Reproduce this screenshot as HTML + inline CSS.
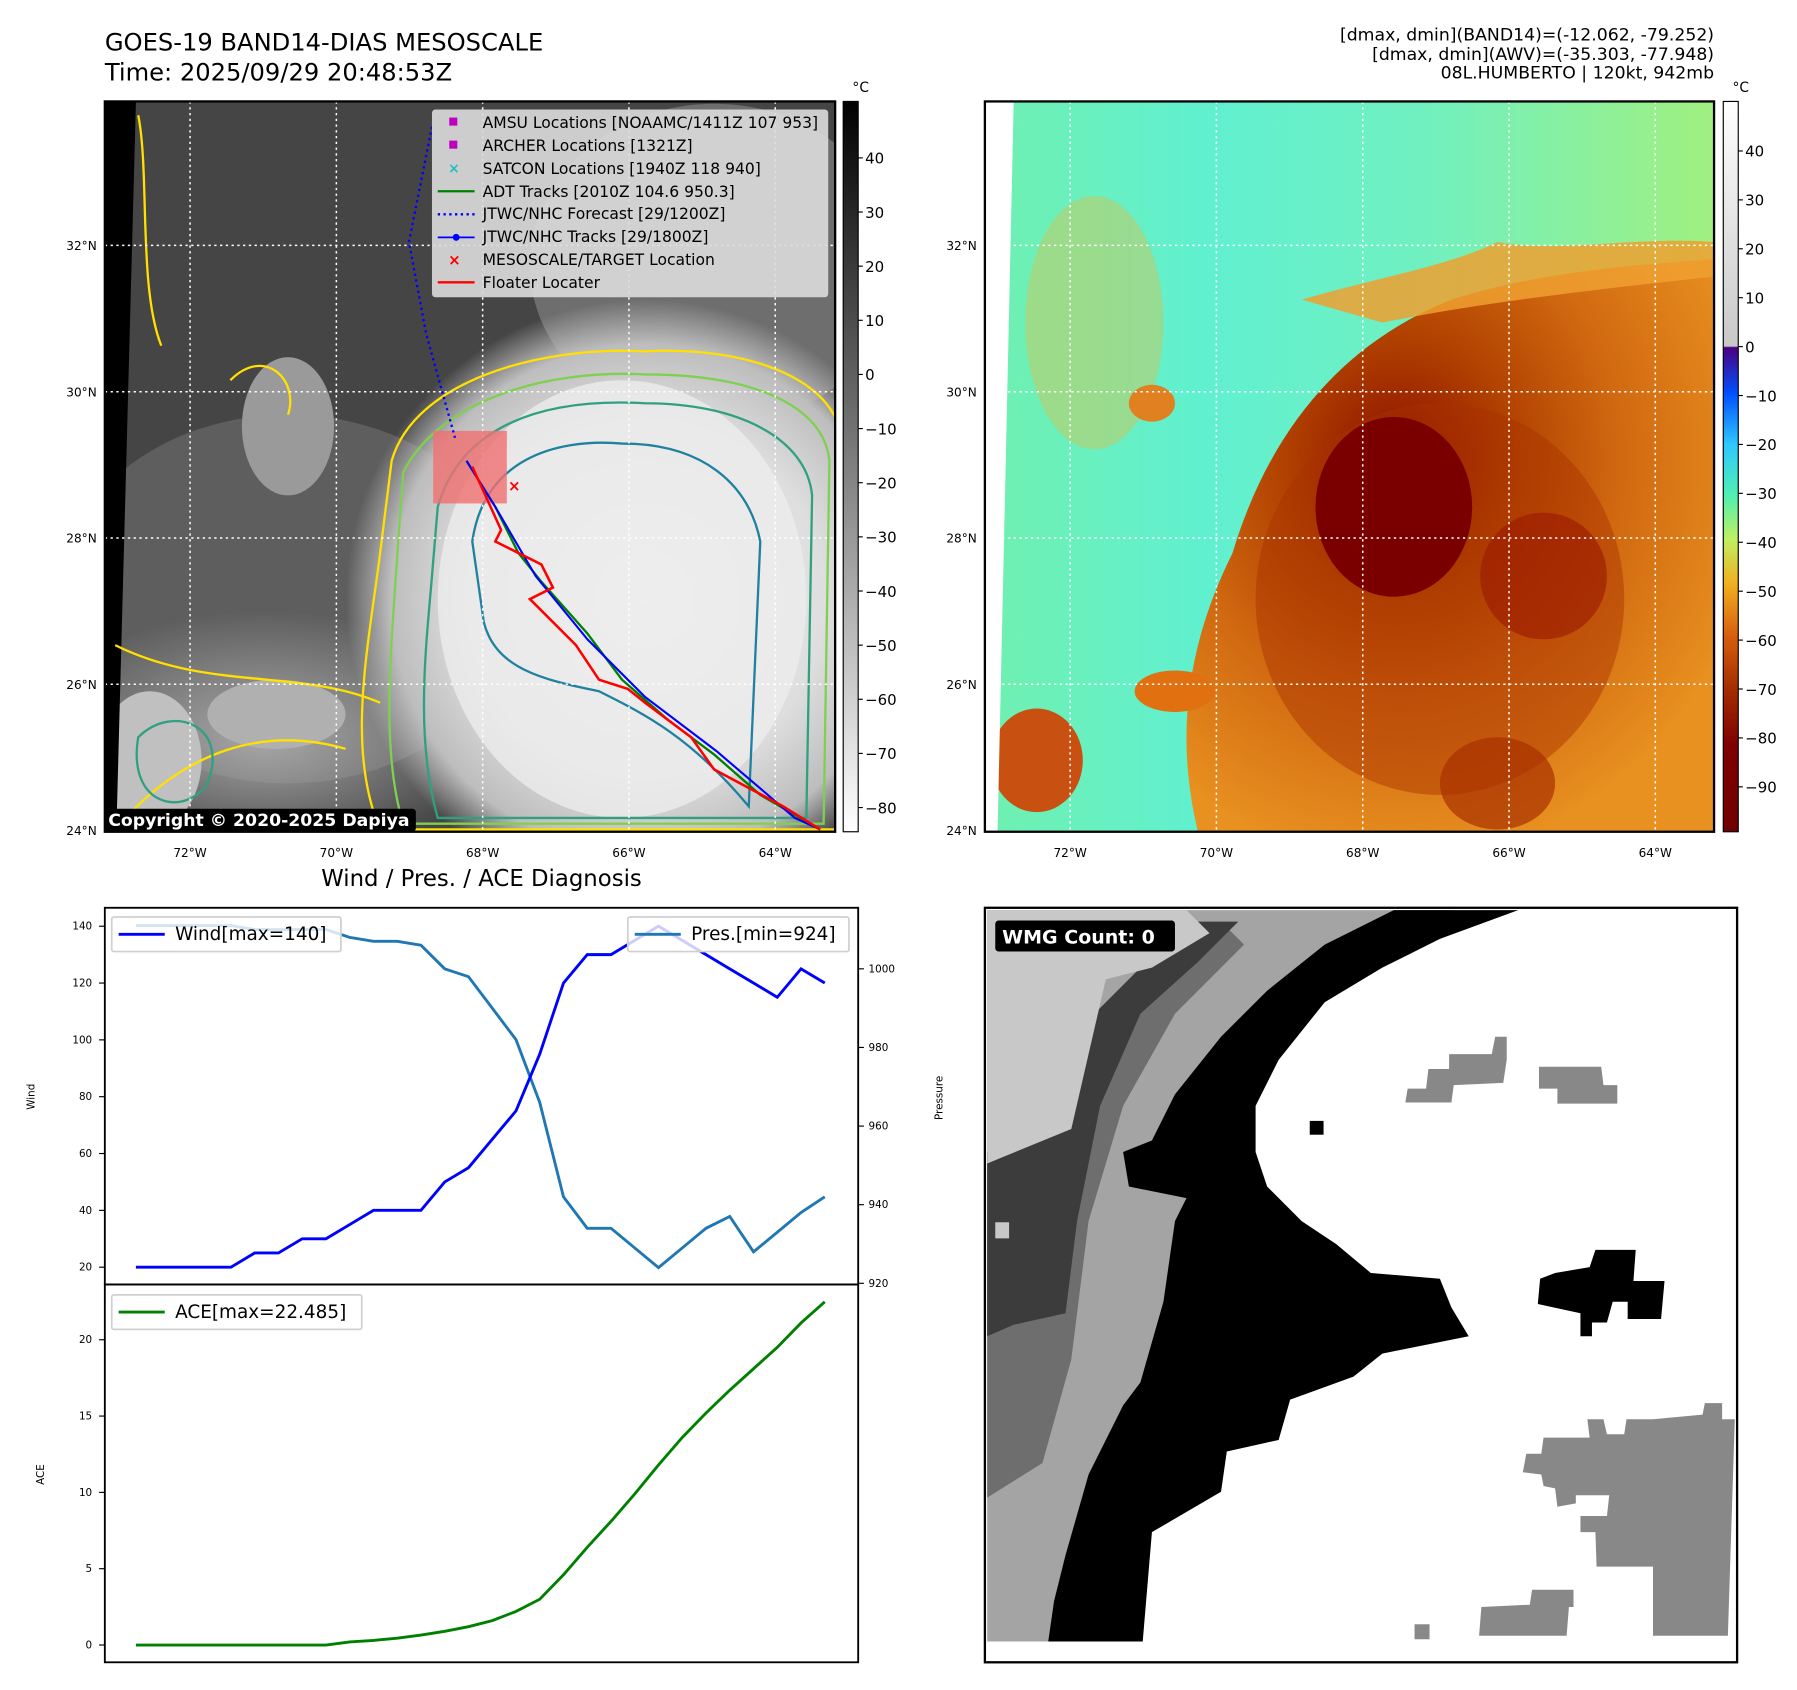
<!DOCTYPE html>
<html><head><meta charset="utf-8"><style>
html,body{margin:0;padding:0;background:#fff;}
svg{display:block;font-family:"DejaVu Sans","Liberation Sans",sans-serif;}
</style></head><body>
<svg id="root" width="1797" height="1690" viewBox="0 0 1560 1467" xmlns="http://www.w3.org/2000/svg">
<defs>
 <linearGradient id="cb1" x1="0" y1="0" x2="0" y2="1">
  <stop offset="0" stop-color="#000"/><stop offset="1" stop-color="#fff"/>
 </linearGradient>
 <linearGradient id="cb2" x1="0" y1="0" x2="0" y2="1">
  <stop offset="0" stop-color="#ffffff"/>
  <stop offset="0.335" stop-color="#c8c8c8"/>
  <stop offset="0.337" stop-color="#4b0082"/>
  <stop offset="0.40" stop-color="#0050ff"/>
  <stop offset="0.47" stop-color="#30c8ff"/>
  <stop offset="0.54" stop-color="#50f0b0"/>
  <stop offset="0.60" stop-color="#c0f060"/>
  <stop offset="0.66" stop-color="#f0b020"/>
  <stop offset="0.73" stop-color="#d86010"/>
  <stop offset="0.80" stop-color="#a83000"/>
  <stop offset="0.88" stop-color="#800000"/>
  <stop offset="1" stop-color="#700000"/>
 </linearGradient>
 <radialGradient id="cloud1" cx="0.5" cy="0.5" r="0.5">
  <stop offset="0" stop-color="#f2f2f2"/><stop offset="0.6" stop-color="#dedede"/><stop offset="0.85" stop-color="#bdbdbd"/><stop offset="1" stop-color="#bdbdbd" stop-opacity="0"/>
 </radialGradient>
 <radialGradient id="haze1" cx="0.5" cy="0.5" r="0.5">
  <stop offset="0" stop-color="#a8a8a8"/><stop offset="1" stop-color="#a8a8a8" stop-opacity="0"/>
 </radialGradient>
 <radialGradient id="storm2" cx="0.4" cy="0.35" r="0.7">
  <stop offset="0" stop-color="#8c1000"/><stop offset="0.3" stop-color="#b04000"/><stop offset="0.6" stop-color="#d06810"/><stop offset="1" stop-color="#e89020"/>
 </radialGradient>
 <linearGradient id="bg2" x1="0" y1="0" x2="1" y2="0">
  <stop offset="0" stop-color="#70f0b0"/><stop offset="0.3" stop-color="#60f0d0"/><stop offset="0.6" stop-color="#70f0c0"/><stop offset="1" stop-color="#a0f080"/>
 </linearGradient>
 <clipPath id="clipm1"><rect x="91" y="88" width="634" height="634"/></clipPath>
 <clipPath id="clipm2"><rect x="855" y="88" width="633" height="634"/></clipPath>
 <clipPath id="clipw"><rect x="91" y="788" width="654" height="327"/></clipPath>
 <clipPath id="clipg"><rect x="855" y="788" width="653" height="655"/></clipPath>
</defs>

<text x="91" y="44" font-size="21">GOES-19 BAND14-DIAS MESOSCALE</text>
<text x="91" y="70" font-size="21">Time: 2025/09/29 20:48:53Z</text>
<g font-size="15" text-anchor="end">
 <text x="1488" y="35">[dmax, dmin](BAND14)=(-12.062, -79.252)</text>
 <text x="1488" y="52">[dmax, dmin](AWV)=(-35.303, -77.948)</text>
 <text x="1488" y="68">08L.HUMBERTO | 120kt, 942mb</text>
</g>

<g clip-path="url(#clipm1)">
 <rect x="91" y="88" width="634" height="634" fill="#454545"/>
 <ellipse cx="250" cy="520" rx="200" ry="160" fill="#6a6a6a" opacity="0.7"/>
 <ellipse cx="230" cy="640" rx="200" ry="110" fill="url(#haze1)"/>
 <ellipse cx="620" cy="230" rx="160" ry="140" fill="#8a8a8a" opacity="0.6"/>
 <ellipse cx="560" cy="520" rx="260" ry="260" fill="url(#cloud1)"/>
 <ellipse cx="540" cy="520" rx="160" ry="190" fill="#ececec" opacity="0.8"/>
 <ellipse cx="250" cy="370" rx="40" ry="60" fill="#9a9a9a"/>
 <ellipse cx="240" cy="620" rx="60" ry="30" fill="#b0b0b0"/>
 <ellipse cx="130" cy="660" rx="45" ry="60" fill="#c0c0c0"/>
 <polygon points="91,88 118,88 101,722 91,722" fill="#000"/>
 <g fill="none" stroke-width="2">
  <path d="M340,400 C360,330 470,300 560,305 C650,300 725,330 730,380 L730,720 L330,720 C300,650 320,560 330,480 Z" stroke="#ffe000"/>
  <path d="M100,560 C180,600 260,580 330,610 M100,720 C160,650 230,630 300,650" stroke="#ffe000"/>
  <path d="M120,100 C130,150 120,250 140,300 M200,330 C230,300 260,330 250,360" stroke="#ffe000"/>
  <path d="M350,410 C380,350 470,320 560,325 C650,325 715,350 720,400 L715,715 L350,715 C330,650 340,560 345,480 Z" stroke="#80d050"/>
  <path d="M380,440 C400,370 470,345 560,350 C640,350 700,380 705,430 L700,710 L380,710 C360,640 370,560 375,500 Z" stroke="#30a080"/>
  <path d="M410,470 C420,400 480,380 540,385 C610,385 650,420 660,470 L650,700 C600,640 560,620 520,600 C470,590 430,580 420,540 Z" stroke="#2080a0"/>
  <path d="M120,640 C150,610 200,630 180,680 C160,710 110,700 120,640 Z" stroke="#30a080"/>
 </g>
 <g stroke="#fff" stroke-width="1.3" stroke-dasharray="2,3">
  <line x1="165" y1="88" x2="165" y2="722"/><line x1="292" y1="88" x2="292" y2="722"/><line x1="419" y1="88" x2="419" y2="722"/><line x1="546" y1="88" x2="546" y2="722"/><line x1="673" y1="88" x2="673" y2="722"/>
  <line x1="91" y1="213" x2="725" y2="213"/><line x1="91" y1="340" x2="725" y2="340"/><line x1="91" y1="467" x2="725" y2="467"/><line x1="91" y1="594" x2="725" y2="594"/>
 </g>
 <rect x="376" y="374" width="64" height="63" fill="#f07070" opacity="0.8"/>
 <polyline points="375,110 355,210 370,290 395,380" fill="none" stroke="#0000ff" stroke-width="2" stroke-dasharray="2,3"/>
 <polyline points="405,400 430,440 450,480 470,505 510,550 540,590 580,625 620,655 660,690 712,720" fill="none" stroke="#008000" stroke-width="2"/>
 <polyline points="405,400 430,440 465,500 510,555 560,605 622,652 690,710 712,720" fill="none" stroke="#0000ff" stroke-width="1.8"/>
 <polyline points="410,405 435,460 430,470 470,490 480,510 460,520 500,560 520,590 545,598 560,610 600,640 620,668 680,700 712,720" fill="none" stroke="#ff0000" stroke-width="2.2"/>
 <text x="441" y="426" font-size="13" fill="#ff0000" font-weight="bold">×</text>
 <rect x="91" y="702" width="270" height="20" fill="#000" rx="3"/>
 <text x="94" y="717" font-size="15" font-weight="bold" fill="#fff">Copyright © 2020-2025 Dapiya</text>
 <g>
  <rect x="375" y="95" width="344" height="163" fill="#dcdcdc" opacity="0.9" rx="3"/>
  <g font-size="13.5">
   <rect x="390" y="102" width="7" height="7" fill="#c000c0"/><text x="419" y="111">AMSU Locations [NOAAMC/1411Z 107 953]</text>
   <rect x="390" y="122" width="7" height="7" fill="#c000c0"/><text x="419" y="131">ARCHER Locations [1321Z]</text>
   <text x="389" y="150" fill="#20c0c0" font-size="12" font-weight="bold">×</text><text x="419" y="151">SATCON Locations [1940Z 118 940]</text>
   <line x1="380" y1="166" x2="412" y2="166" stroke="#008000" stroke-width="2"/><text x="419" y="171">ADT Tracks [2010Z 104.6 950.3]</text>
   <line x1="380" y1="186" x2="412" y2="186" stroke="#0000ff" stroke-width="2" stroke-dasharray="2,3"/><text x="419" y="190">JTWC/NHC Forecast [29/1200Z]</text>
   <line x1="380" y1="206" x2="412" y2="206" stroke="#0000ff" stroke-width="1.5"/><circle cx="396" cy="206" r="3" fill="#0000ff"/><text x="419" y="210">JTWC/NHC Tracks [29/1800Z]</text>
   <text x="389" y="230" fill="#ff0000" font-size="13" font-weight="bold">×</text><text x="419" y="230">MESOSCALE/TARGET Location</text>
   <line x1="380" y1="245" x2="412" y2="245" stroke="#ff0000" stroke-width="2"/><text x="419" y="250">Floater Locater</text>
  </g>
 </g>
</g>
<rect x="91" y="88" width="634" height="634" fill="none" stroke="#000" stroke-width="2"/>

<g>
 <rect x="732" y="88" width="13" height="634" fill="url(#cb1)" stroke="#000" stroke-width="1"/>
 <text x="740" y="80" font-size="12">°C</text>
 <g font-size="13" id="cb1ticks"></g>
</g>

<g clip-path="url(#clipm2)">
 <rect x="855" y="88" width="633" height="634" fill="url(#bg2)"/>
 <ellipse cx="950" cy="280" rx="60" ry="110" fill="#d8c050" opacity="0.45"/>
 <path d="M1040,722 C1020,640 1030,560 1070,480 C1100,380 1160,300 1260,260 C1340,235 1420,230 1488,225 L1488,722 Z" fill="url(#storm2)"/>
 <path d="M1130,260 C1200,240 1260,230 1300,210 C1350,220 1420,205 1488,210 L1488,240 C1400,250 1300,260 1200,280 Z" fill="#eea030" opacity="0.85"/>
 <ellipse cx="1250" cy="520" rx="160" ry="170" fill="#a83000" opacity="0.45"/>
 <ellipse cx="1210" cy="440" rx="68" ry="78" fill="#7a0000"/>
 <ellipse cx="1340" cy="500" rx="55" ry="55" fill="#9a1800" opacity="0.6"/>
 <ellipse cx="1300" cy="680" rx="50" ry="40" fill="#a83000" opacity="0.7"/>
 <ellipse cx="900" cy="660" rx="40" ry="45" fill="#c85010"/>
 <ellipse cx="1020" cy="600" rx="35" ry="18" fill="#e07010"/>
 <ellipse cx="1000" cy="350" rx="20" ry="16" fill="#e08020"/>
 <polygon points="855,88 880,88 866,722 855,722" fill="#fff"/>
 <g stroke="#fff" stroke-width="1.3" stroke-dasharray="2,3">
  <line x1="929" y1="88" x2="929" y2="722"/><line x1="1056" y1="88" x2="1056" y2="722"/><line x1="1183" y1="88" x2="1183" y2="722"/><line x1="1310" y1="88" x2="1310" y2="722"/><line x1="1437" y1="88" x2="1437" y2="722"/>
  <line x1="855" y1="213" x2="1488" y2="213"/><line x1="855" y1="340" x2="1488" y2="340"/><line x1="855" y1="467" x2="1488" y2="467"/><line x1="855" y1="594" x2="1488" y2="594"/>
 </g>
</g>
<rect x="855" y="88" width="633" height="634" fill="none" stroke="#000" stroke-width="2"/>
<g>
 <rect x="1496" y="88" width="13" height="634" fill="url(#cb2)" stroke="#000" stroke-width="1"/>
 <text x="1504" y="80" font-size="12">°C</text>
 <g font-size="13" id="cb2ticks"></g>
</g>

<g font-size="10.5" id="maplabels"></g>

<text x="418" y="769" font-size="19.8" text-anchor="middle">Wind / Pres. / ACE Diagnosis</text>
<g id="chart"></g>

<g clip-path="url(#clipg)">
 <rect x="855" y="788" width="653" height="655" fill="#fff"/>
 <polygon points="857,790 1260,790 1200,820 1120,860 1060,920 1030,1000 1040,1060 1030,1120 1020,1180 1000,1240 990,1330 992,1425 857,1425" fill="#a4a4a4"/>
 <polygon points="857,1000 930,985 960,880 1020,820 1060,800 1080,820 1020,880 975,960 945,1060 930,1180 905,1270 857,1300" fill="#6e6e6e"/>
 <polygon points="857,1000 920,980 950,880 1000,830 1040,800 1075,800 1040,835 990,880 955,960 935,1060 925,1140 880,1150 857,1160" fill="#3c3c3c"/>
 <polygon points="857,790 1030,790 1050,810 1000,840 960,850 930,980 857,1010" fill="#c8c8c8"/>
 <polygon points="1210,790 1318,790 1250,815 1200,840 1150,870 1110,920 1090,960 1090,1000 1100,1030 1130,1060 1160,1080 1190,1105 1250,1110 1260,1135 1275,1160 1200,1175 1175,1195 1120,1215 1110,1250 1065,1260 1060,1295 1000,1330 992,1425 910,1425 915,1390 925,1350 945,1280 975,1220 990,1200 1010,1130 1020,1060 1030,1040 980,1030 975,1000 1000,990 1020,950 1060,900 1100,860 1150,820" fill="#000"/>
 <rect x="1137" y="973" width="12" height="12" fill="#000"/>
 <polygon points="1350,1105 1380,1100 1385,1085 1420,1085 1418,1112 1445,1112 1442,1145 1413,1145 1413,1130 1400,1130 1395,1148 1382,1148 1382,1160 1372,1160 1372,1140 1335,1132 1337,1110" fill="#000"/>
 <polygon points="1220,957 1222,945 1238,945 1240,928 1258,928 1258,915 1295,915 1298,900 1308,900 1308,920 1305,940 1262,942 1260,957" fill="#888"/>
 <polygon points="1336,926 1390,926 1392,942 1404,942 1404,958 1352,958 1352,945 1336,945" fill="#888"/>
 <polygon points="1322,1278 1325,1262 1338,1262 1340,1248 1380,1248 1378,1232 1392,1232 1395,1245 1410,1245 1412,1232 1435,1232 1478,1228 1480,1218 1495,1218 1495,1232 1506,1232 1500,1420 1435,1420 1435,1360 1386,1360 1385,1330 1372,1330 1372,1316 1395,1316 1397,1298 1368,1298 1368,1305 1352,1308 1350,1292 1340,1290 1338,1280" fill="#888"/>
 <polygon points="1284,1420 1286,1395 1328,1393 1330,1380 1366,1380 1366,1395 1362,1395 1360,1420" fill="#888"/>
 <rect x="1228" y="1410" width="13" height="13" fill="#888"/>
 <rect x="864" y="1061" width="12" height="14" fill="#c8c8c8"/>
 <rect x="864" y="799" width="156" height="27" rx="3" fill="#000"/>
 <text x="870" y="819" font-size="16.5" font-weight="bold" fill="#fff">WMG Count: 0</text>
</g>
<rect x="855" y="788" width="653" height="655" fill="none" stroke="#000" stroke-width="2"/>

<script>
// ----- chart data -----
const wind = [20,20,20,20,20,25,25,30,30,35,40,40,40,50,55,65,75,95,120,130,130,135,140,135,130,125,120,115,125,120];
const pressure = [1011,1011,1011,1011,1011,1010,1010,1010,1010,1008,1007,1007,1006,1000,998,990,982,966,942,934,934,929,924,929,934,937,928,933,938,942];
const ace = [0,0,0,0,0,0,0,0,0,0.2,0.3,0.45,0.65,0.9,1.2,1.6,2.2,3.0,4.6,6.4,8.1,9.9,11.8,13.6,15.2,16.7,18.1,19.5,21.1,22.485];
const windTicks = [20,40,60,80,100,120,140];
const presTicks = [920,940,960,980,1000];
const aceTicks = [0,5,10,15,20];
const cb1Ticks = [40,30,20,10,0,-10,-20,-30,-40,-50,-60,-70,-80];
const cb2Ticks = [40,30,20,10,0,-10,-20,-30,-40,-50,-60,-70,-80,-90];
const latTicks = [32,30,28,26,24];
const lonTicks = [72,70,68,66,64];

const NS = "http://www.w3.org/2000/svg";
function mk(tag, attrs, parent, txt){const e=document.createElementNS(NS,tag);for(const k in attrs)e.setAttribute(k,attrs[k]);if(txt!==undefined)e.textContent=txt;parent.appendChild(e);return e;}

const xIdx = i => 118 + i*(716-118)/(wind.length-1);
const yWind = v => 1100 - (v-20)*(1100-804)/120;
const yPres = v => 1114 - (v-920)*(1114-841)/80;
const yAce = v => 1428 - v*(1428-1163)/20;
const yCb1 = v => 701 - (v+80)*(701-137)/120;
const yCb2 = v => 683 - (v+90)*(683-131)/130;
const yLat = v => 721 - (v-24)*63.5;
const xLon1 = v => 165 + (72-v)*63.5;
const xLon2 = v => 929 + (72-v)*63.5;

const chart = document.getElementById('chart');
mk('rect',{x:91,y:788,width:654,height:655,fill:'#fff'},chart);

const g1 = mk('g',{'clip-path':'url(#clipw)'},chart);
const pl = mk('polyline',{points:pressure.map((v,i)=>xIdx(i)+','+yPres(v)).join(' '),fill:'none',stroke:'#1f77b4','stroke-width':2.5},g1);


const wl = mk('polyline',{points:wind.map((v,i)=>xIdx(i)+','+yWind(v)).join(' '),fill:'none',stroke:'#0000ff','stroke-width':2.5},g1);


const al = mk('polyline',{points:ace.map((v,i)=>xIdx(i)+','+yAce(v)).join(' '),fill:'none',stroke:'#008000','stroke-width':2.5},chart);



mk('rect',{x:91,y:788,width:654,height:327,fill:'none',stroke:'#000','stroke-width':1.6},chart);
mk('rect',{x:91,y:1115,width:654,height:328,fill:'none',stroke:'#000','stroke-width':1.6},chart);

windTicks.forEach(v=>{const y=yWind(v);mk('line',{x1:86,y1:y,x2:91,y2:y,stroke:'#000'},chart);
 const t=mk('text',{x:80,y:y+3,'font-size':9,'text-anchor':'end'},chart,String(v));
 
 });
presTicks.forEach(v=>{const y=yPres(v);mk('line',{x1:745,y1:y,x2:750,y2:y,stroke:'#000'},chart);
 const t=mk('text',{x:754,y:y+3,'font-size':9},chart,String(v));
 
 });
aceTicks.forEach(v=>{const y=yAce(v);mk('line',{x1:86,y1:y,x2:91,y2:y,stroke:'#000'},chart);
 const t=mk('text',{x:80,y:y+3,'font-size':9,'text-anchor':'end'},chart,String(v));
 
 });
const wy=mk('text',{x:30,y:952,'font-size':9,'text-anchor':'middle',transform:'rotate(-90 30 952)'},chart,'Wind');


const py=mk('text',{x:818,y:953,'font-size':9,'text-anchor':'middle',transform:'rotate(-90 818 953)'},chart,'Pressure');


const ay=mk('text',{x:38,y:1280,'font-size':9,'text-anchor':'middle',transform:'rotate(-90 38 1280)'},chart,'ACE');



function legend(x,y,w,color,label,name){const g=mk('g',{},chart);
 
 
 mk('rect',{x:x,y:y,width:w,height:30,rx:2,fill:'#fff','fill-opacity':0.8,stroke:'#d0d0d0','stroke-width':1.5},g);
 mk('line',{x1:x+6,y1:y+15,x2:x+46,y2:y+15,stroke:color,'stroke-width':2.5},g);
 mk('text',{x:x+55,y:y+20,'font-size':16},g,label);}
legend(97,796,199,'#0000ff','Wind[max=140]','wind-legend');
legend(545,796,192,'#1f77b4','Pres.[min=924]','pressure-legend');
legend(97,1124,217,'#008000','ACE[max=22.485]','ace-legend');

const c1=document.getElementById('cb1ticks');
cb1Ticks.forEach(v=>{const y=yCb1(v);mk('line',{x1:745,y1:y,x2:749,y2:y,stroke:'#000'},c1);
 const t=mk('text',{x:751,y:y+5},c1,v<0?'\u2212'+(-v):String(v));
 
 });
const c2=document.getElementById('cb2ticks');
cb2Ticks.forEach(v=>{const y=yCb2(v);mk('line',{x1:1509,y1:y,x2:1513,y2:y,stroke:'#000'},c2);
 const t=mk('text',{x:1515,y:y+5},c2,v<0?'\u2212'+(-v):String(v));
 
 });

const ml=document.getElementById('maplabels');
latTicks.forEach(v=>{const y=yLat(v);
 const a=mk('text',{x:84,y:y+4,'text-anchor':'end'},ml,v+'°N');
 
 
 const b=mk('text',{x:848,y:y+4,'text-anchor':'end'},ml,v+'°N');
 
 });
lonTicks.forEach(v=>{
 const a=mk('text',{x:xLon1(v),y:744,'text-anchor':'middle'},ml,v+'°W');
 
 
 const b=mk('text',{x:xLon2(v),y:744,'text-anchor':'middle'},ml,v+'°W');
 
 });
</script>
</svg>
</body></html>
